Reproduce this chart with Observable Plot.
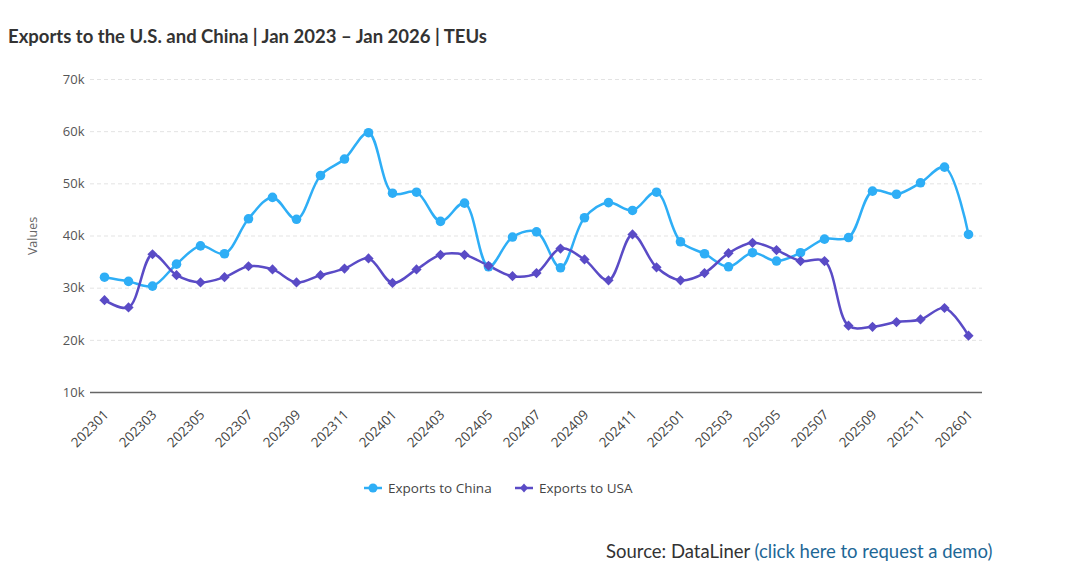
<!DOCTYPE html>
<html>
<head>
<meta charset="utf-8">
<script src="https://cdn.jsdelivr.net/npm/d3@7"></script>
<script src="https://cdn.jsdelivr.net/npm/@observablehq/plot@0.6"></script>
<style>
  html, body { margin: 0; padding: 0; background: #fff; }
  #wrap { position: relative; width: 1080px; height: 588px; overflow: hidden; font-family: "Open Sans", sans-serif; }
  #title { position: absolute; left: 8px; top: 25px; font-family: "Lato", "Open Sans", sans-serif; font-weight: 700; font-size: 18.5px; color: #333; white-space: nowrap; }
  #chart { position: absolute; left: 0; top: 60px; }
  #legend { position: absolute; top: 479px; left: 0; width: 1080px; font-size: 13.5px; color: #444; }
  #legend .item { position: absolute; display: flex; align-items: center; white-space: nowrap; }
  #source { position: absolute; top: 540px; left: 606px; font-family: "Lato", "Open Sans", sans-serif; font-size: 18.5px; color: #333; white-space: nowrap; }
  #source span { color: #1d6796; }
</style>
</head>
<body>
<div id="wrap">
  <div id="title">Exports to the U.S. and China | Jan 2023 – Jan 2026 | TEUs</div>
  <div id="chart"></div>
  <div id="legend"></div>
  <div id="source">Source: DataLiner <span>(click here to request a demo)</span></div>
</div>
<script>
const months = [
  "202301","202302","202303","202304","202305","202306","202307","202308","202309","202310","202311","202312",
  "202401","202402","202403","202404","202405","202406","202407","202408","202409","202410","202411","202412",
  "202501","202502","202503","202504","202505","202506","202507","202508","202509","202510","202511","202512",
  "202601"
];
const chinaValues = [
  32100, 31300, 30400, 34600, 38100, 36600, 43300, 47400, 43200, 51600, 54750, 59800,
  48200, 48400, 42800, 46300, 34100, 39800, 40800, 33900, 43500, 46400, 44900, 48400,
  38900, 36600, 34100, 36800, 35200, 36800, 39400, 39700, 48600, 48000, 50200, 53200,
  40300
];
const usaValues = [
  27700, 26300, 36500, 32500, 31100, 32100, 34200, 33600, 31100, 32500, 33750, 35700,
  31000, 33600, 36400, 36400, 34300, 32300, 32900, 37600, 35500, 31500, 40300, 34000,
  31500, 32900, 36700, 38700, 37300, 35200, 35200, 22800, 22600, 23500, 24000, 26200,
  20900
];
const seriesNames = ["Exports to China", "Exports to USA"];
const seriesColors = ["#2eaef6", "#5a4bc6"];
const yTicks = [10000, 20000, 30000, 40000, 50000, 60000, 70000];
const xTicks = months.filter((m, i) => i % 2 === 0);

const china = months.map((m, i) => ({month: m, value: chinaValues[i], series: seriesNames[0]}));
const usa = months.map((m, i) => ({month: m, value: usaValues[i], series: seriesNames[1]}));

const chart = Plot.plot({
  width: 1080,
  height: 400,
  marginTop: 19,
  marginBottom: 68,
  marginLeft: 90,
  marginRight: 98,
  style: { fontFamily: "Open Sans, sans-serif", fontSize: "12px", color: "#666", background: "#fff" },
  x: { type: "point", domain: months, padding: 0.5, label: null },
  y: { domain: [10000, 70000], label: null },
  marks: [
    Plot.ruleY(yTicks.slice(1), { stroke: "#e3e3e3", strokeDasharray: "4,3", strokeWidth: 1 }),
    Plot.ruleY([10000], { stroke: "#666", strokeWidth: 1.3 }),
    Plot.axisY({ ticks: yTicks, tickFormat: d => (d / 1000) + "k", tickSize: 0, tickPadding: 6, fontSize: 13, fill: "#555", label: null }),
    Plot.text(["Values"], { frameAnchor: "left", textAnchor: "middle", dx: -58, rotate: -90, fontSize: 12.5, fill: "#666" }),
    Plot.axisX({ ticks: xTicks, tickSize: 0, tickPadding: 8, dy: 12, dx: 2, tickRotate: -45, fontSize: 13.5, fill: "#444", label: null }),
    Plot.line(china, { x: "month", y: "value", stroke: seriesColors[0], strokeWidth: 2.5, curve: "catmull-rom" }),
    Plot.line(usa, { x: "month", y: "value", stroke: seriesColors[1], strokeWidth: 2.5, curve: "catmull-rom" }),
    Plot.dot(china, { x: "month", y: "value", fill: seriesColors[0], r: 4.8, symbol: "circle" }),
    Plot.dot(usa, { x: "month", y: "value", fill: seriesColors[1], r: 4.6, symbol: "diamond2" })
  ]
});
document.getElementById("chart").appendChild(chart);

// legend
const legend = document.getElementById("legend");
const positions = [364, 515];
seriesNames.forEach((name, i) => {
  const item = document.createElement("div");
  item.className = "item";
  item.style.left = positions[i] + "px";
  const sym = i === 0
    ? `<circle cx="9" cy="7" r="4.5" fill="${seriesColors[i]}"/>`
    : `<path d="M9 2.5 L13 7 L9 11.5 L5 7 Z" fill="${seriesColors[i]}"/>`;
  item.innerHTML = `<svg width="18" height="14" style="margin-right:6px"><line x1="0" y1="7" x2="18" y2="7" stroke="${seriesColors[i]}" stroke-width="2.5"/>${sym}</svg><span>${name}</span>`;
  legend.appendChild(item);
});
</script>
</body>
</html>
